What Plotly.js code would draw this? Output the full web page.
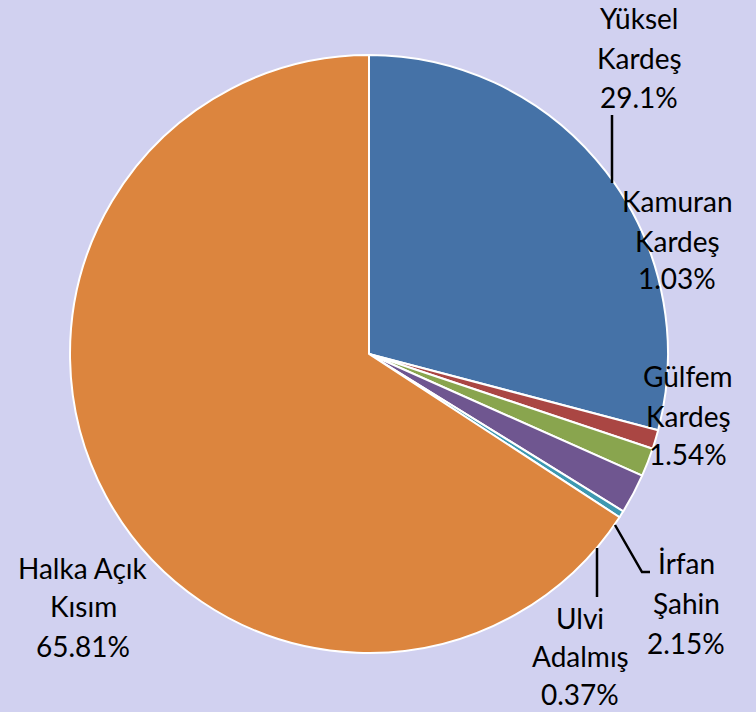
<!DOCTYPE html>
<html>
<head>
<meta charset="utf-8">
<script src="https://cdn.plot.ly/plotly-3.0.1.min.js"></script>
<style>
  html, body { margin: 0; padding: 0; background: #d1d1f0; }
  #chart { width: 756px; height: 712px; }
</style>
</head>
<body>
<div id="chart"></div>
<script>
// ---- data ----
const labels = ['Yüksel Kardeş', 'Kamuran Kardeş', 'Gülfem Kardeş', 'İrfan Şahin', 'Ulvi Adalmış', 'Halka Açık Kısım'];
const values = [29.1, 1.03, 1.54, 2.15, 0.37, 65.81];
const colors = ['#4572a7', '#aa4643', '#89a54e', '#6f5690', '#3d98b0', '#dc853e'];

// ---- label placement (pixels in the 756x712 page) ----
const labelPos = [
  {x: 639, y: [18, 58, 97]},
  {x: 677, y: [201, 241, 278]},
  {x: 688, y: [376, 416, 454]},
  {x: 686, y: [563, 603, 643]},
  {x: 580, y: [618, 656, 694]},
  {x: 83,  y: [568, 606, 646]}
];
const leaderLines = [
  [[612, 115], [612, 183]],
  [[615, 525], [642, 572], [650, 572]],
  [[597, 548], [597, 597]]
];

const W = 756, H = 712;
const px = x => x / W;
const py = y => 1 - y / H;

const annotations = [];
labels.forEach((lab, i) => {
  const cut = lab.lastIndexOf(' ');
  const lines = [lab.slice(0, cut), lab.slice(cut + 1), String(values[i]) + '%'];
  lines.forEach((t, j) => {
    annotations.push({
      text: t, x: px(labelPos[i].x), y: py(labelPos[i].y[j]),
      xref: 'paper', yref: 'paper', xanchor: 'center', yanchor: 'middle',
      showarrow: false,
      font: {family: 'Lato, "Open Sans", sans-serif', size: 28, color: '#000000'}
    });
  });
});

const shapes = leaderLines.map(pts => ({
  type: 'path', xref: 'paper', yref: 'paper',
  path: pts.map((p, k) => (k ? 'L' : 'M') + px(p[0]) + ',' + py(p[1])).join(' '),
  line: {color: '#000000', width: 2.5}
}));

const trace = {
  type: 'pie',
  labels: labels,
  values: values,
  sort: false,
  direction: 'clockwise',
  rotation: 0,
  textinfo: 'none',
  hoverinfo: 'skip',
  marker: {colors: colors, line: {color: '#ffffff', width: 2}},
  domain: {x: [70 / W, 668 / W], y: [59 / H, 657 / H]},
  showlegend: false
};

const layout = {
  width: W, height: H,
  margin: {l: 0, r: 0, t: 0, b: 0},
  paper_bgcolor: '#d1d1f0',
  plot_bgcolor: '#d1d1f0',
  showlegend: false,
  annotations: annotations,
  shapes: shapes
};

Plotly.newPlot('chart', [trace], layout, {displayModeBar: false, staticPlot: true});
</script>
</body>
</html>
